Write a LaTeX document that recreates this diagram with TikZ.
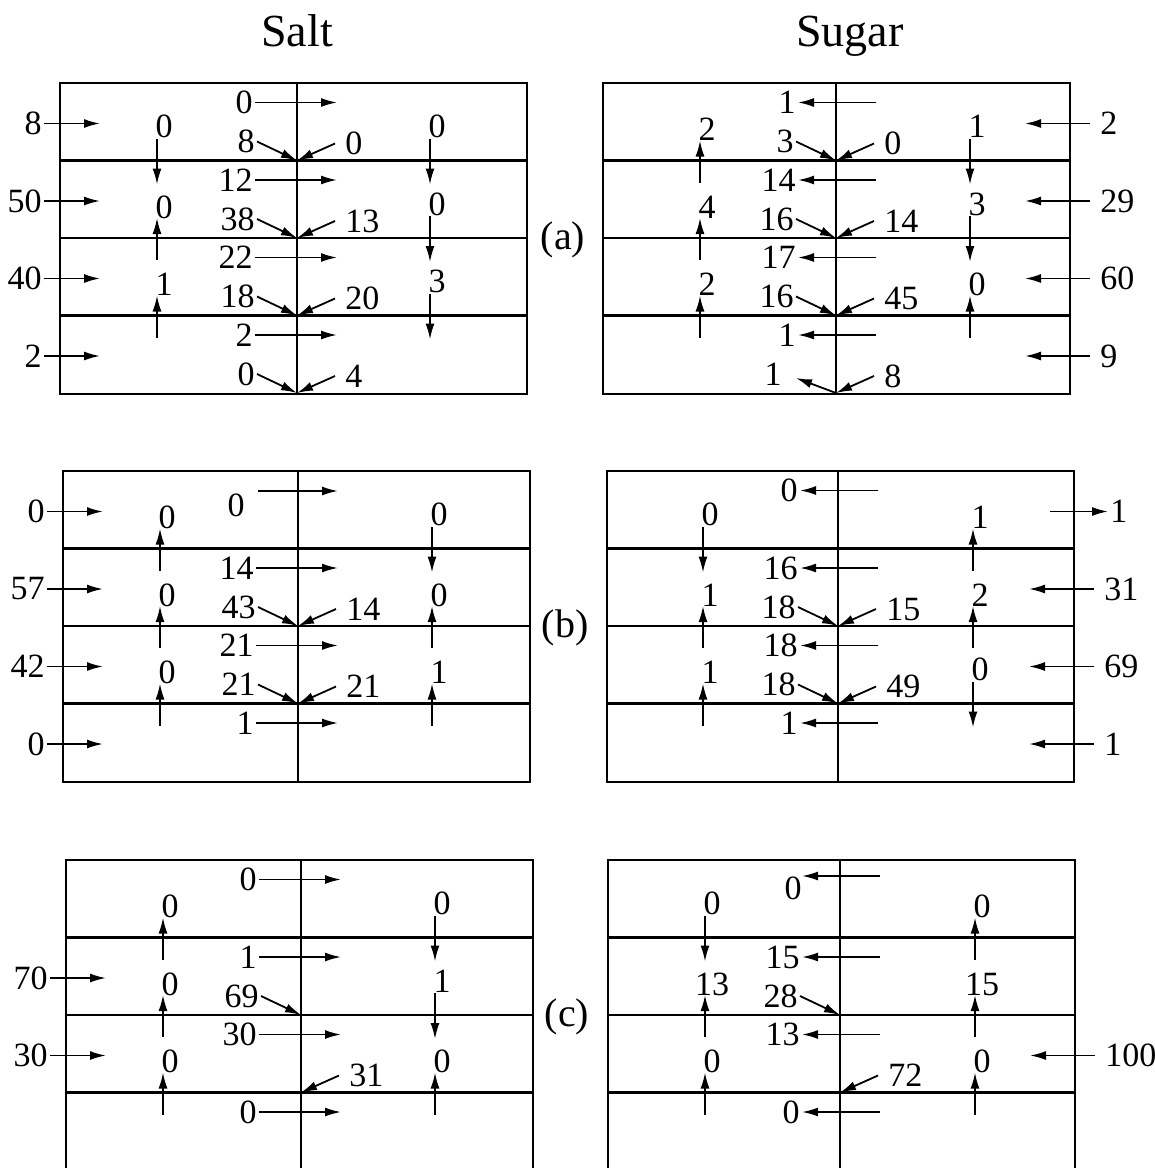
\documentclass[tikz,border=0pt]{standalone}
\usepackage{fontspec}
\setmainfont{Liberation Serif}
\usetikzlibrary{arrows.meta}

\tikzset{
  lbl/.style={font=\fontsize{17}{19}\selectfont, inner sep=1pt},
  heading/.style={font=\fontsize{23}{26}\selectfont, anchor=base},
  tag/.style={font=\fontsize{20}{22}\selectfont},
  flux/.style={-{Latex[length=8pt,width=4.5pt]}, line width=0.9pt},
  wall/.style={line width=1.1pt},
}

% one tank: 4 layers, split in the middle at \cx
\newcommand{\basin}{%
  \draw[wall] (0,0) rectangle (467,311);
  \foreach \k in {1,2,3} {\draw[wall] (0,77.5*\k) -- (467,77.5*\k);}
  \draw[wall] (\cx,0) -- (\cx,311);
  \foreach \k in {1,2,3,4} {\coordinate (j\k) at (\cx,77.5*\k);}
}
% inflow from the left / right, outflow to the right
\newcommand{\inL}[2]{%
  \node[lbl,anchor=east] (in#1) at (-16,77.5*#1-37) {#2};
  \draw[flux] (in#1.east) -- (40,77.5*#1-37);}
\newcommand{\inR}[2]{%
  \node[lbl,anchor=west,inner xsep=5pt] (in#1) at (487,77.5*#1-37) {#2};
  \draw[flux] (in#1.west) -- (422,77.5*#1-37);}
\newcommand{\outR}[2]{%
  \node[lbl,anchor=west] (out#1) at (501,77.5*#1-37) {#2};
  \draw[flux] (443,77.5*#1-37) -- (out#1.west);}
% exchange across the middle wall
\newcommand{\shiftR}[2]{%
  \node[lbl,anchor=east] (h#1) at (\cx-42,77.5*#1-58) {#2};
  \draw[flux] (h#1.east) -- (\cx+40,77.5*#1-58);}
\newcommand{\shiftL}[2]{%
  \node[lbl,anchor=east] (h#1) at (\cx-38,77.5*#1-58) {#2};
  \draw[flux] (\cx+40,77.5*#1-58) -- (h#1.east);}
% flows down into the junction below
\newcommand{\mergeL}[2]{%
  \node[lbl,anchor=east] (dl#1) at (\cx-40,77.5*#1-19) {#2};
  \draw[flux] (dl#1.east) -- (j#1);}
\newcommand{\mergeR}[2]{%
  \node[lbl,anchor=west,inner xsep=5pt] (dr#1) at (\cx+38,77.5*#1-17) {#2};
  \draw[flux] (dr#1.west) -- (j#1);}
% vertical exchange across layer boundary #2 at column #1
\newcommand{\vup}[3]{%
  \node[lbl] (v#1-#2) at (#1+7,77.5*#2-31) {#3};
  \draw[flux] (#1,77.5*#2+22) -- (#1,77.5*#2-20);}
\newcommand{\vdown}[3]{%
  \node[lbl] (v#1-#2) at (#1+7,77.5*#2-34) {#3};
  \draw[flux] (#1,77.5*#2-22) -- (#1,77.5*#2+24);}

\begin{document}
\begin{tikzpicture}[x=0.5pt,y=-0.5pt]
  \useasboundingbox (0,0) rectangle (1155,1168);

  \node[heading] (salt) at (297,46) {Salt};
  \node[heading] (sugar) at (850,46) {Sugar};
  \node[tag] (ta) at (563,240) {(a)};
  \node[tag] (tb) at (565,628) {(b)};
  \node[tag] (tc) at (567,1017) {(c)};

  % (a) salt
  \def\cx{237}
  \begin{scope}[shift={(60,83)}, name prefix=as-]
    \basin
    \inL{1}{8} \inL{2}{50} \inL{3}{40} \inL{4}{2}
    \shiftR{1}{0} \shiftR{2}{12} \shiftR{3}{22} \shiftR{4}{2}
    \mergeL{1}{8} \mergeL{2}{38} \mergeL{3}{18} \mergeL{4}{0}
    \mergeR{1}{0} \mergeR{2}{13} \mergeR{3}{20} \mergeR{4}{4}
    \vdown{97}{1}{0} \vup{97}{2}{0} \vup{97}{3}{1}
    \vdown{370}{1}{0} \vdown{370}{2}{0} \vdown{370}{3}{3}
  \end{scope}

  % (a) sugar
  \def\cx{233}
  \begin{scope}[shift={(603,83)}, name prefix=au-]
    \basin
    \inR{1}{2} \inR{2}{29} \inR{3}{60} \inR{4}{9}
    \shiftL{1}{1} \shiftL{2}{14} \shiftL{3}{17} \shiftL{4}{1}
    \mergeL{1}{3} \mergeL{2}{16} \mergeL{3}{16}
    \node[lbl,anchor=east] (dl4) at (\cx-52,291) {1};
    \draw[flux] (j4) -- (\cx-40,295);
    \mergeR{1}{0} \mergeR{2}{14} \mergeR{3}{45} \mergeR{4}{8}
    \vup{97}{1}{2} \vup{97}{2}{4} \vup{97}{3}{2}
    \vdown{367}{1}{1} \vdown{367}{2}{3} \vup{367}{3}{0}
  \end{scope}

  % (b) salt
  \def\cx{235}
  \begin{scope}[shift={(63,471)}, name prefix=bs-]
    \basin
    \inL{1}{0} \inL{2}{57} \inL{3}{42} \inL{4}{0}
    \node[lbl] (h1) at (\cx-62,34) {0};
    \draw[flux] (\cx-40,20) -- (\cx+40,20);
    \shiftR{2}{14} \shiftR{3}{21} \shiftR{4}{1}
    \mergeL{2}{43} \mergeL{3}{21}
    \mergeR{2}{14} \mergeR{3}{21}
    \vup{97}{1}{0} \vup{97}{2}{0} \vup{97}{3}{0}
    \vdown{369}{1}{0} \vup{369}{2}{0} \vup{369}{3}{1}
  \end{scope}

  % (b) sugar
  \def\cx{231}
  \begin{scope}[shift={(607,471)}, name prefix=bu-]
    \basin
    \outR{1}{1} \inR{2}{31} \inR{3}{69} \inR{4}{1}
    \shiftL{1}{0} \shiftL{2}{16} \shiftL{3}{18} \shiftL{4}{1}
    \mergeL{2}{18} \mergeL{3}{18}
    \mergeR{2}{15} \mergeR{3}{49}
    \vdown{96}{1}{0} \vup{96}{2}{1} \vup{96}{3}{1}
    \vup{366}{1}{1} \vup{366}{2}{2} \vdown{366}{3}{0}
  \end{scope}

  % (c) salt
  \def\cx{235}
  \begin{scope}[shift={(66,860)}, name prefix=cs-]
    \basin
    \inL{2}{70} \inL{3}{30}
    \shiftR{1}{0} \shiftR{2}{1} \shiftR{3}{30} \shiftR{4}{0}
    \mergeL{2}{69}
    \mergeR{3}{31}
    \vup{97}{1}{0} \vup{97}{2}{0} \vup{97}{3}{0}
    \vdown{369}{1}{0} \vdown{369}{2}{1} \vup{369}{3}{0}
  \end{scope}

  % (c) sugar
  \def\cx{232}
  \begin{scope}[shift={(608,860)}, name prefix=cu-]
    \basin
    \inR{3}{100}
    \node[lbl,anchor=east] (h1) at (\cx-36,28) {0};
    \draw[flux] (\cx+40,16) -- (\cx-38,16);
    \shiftL{2}{15} \shiftL{3}{13} \shiftL{4}{0}
    \mergeL{2}{28}
    \mergeR{3}{72}
    \vdown{97}{1}{0} \vup{97}{2}{13} \vup{97}{3}{0}
    \vup{367}{1}{0} \vup{367}{2}{15} \vup{367}{3}{0}
  \end{scope}
\end{tikzpicture}
\end{document}
